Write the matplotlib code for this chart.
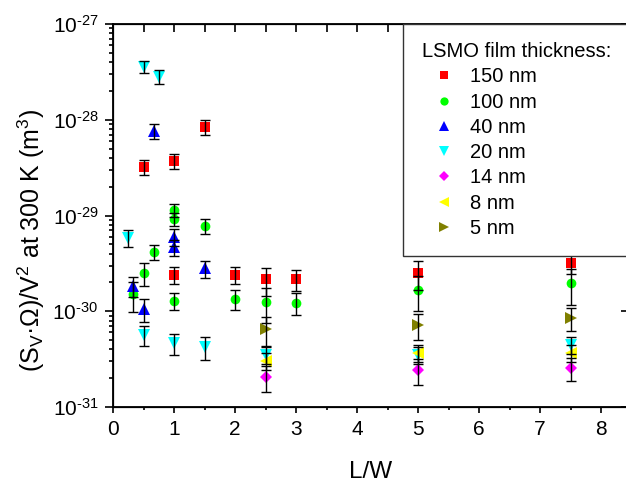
"""
Normalized noise (S_V * Omega / V^2) vs L/W for LSMO films of different thickness
"""
import numpy as np
import matplotlib
matplotlib.use('Agg')
import matplotlib.pyplot as plt
from matplotlib.ticker import FuncFormatter

plt.rcParams['font.family'] = ['Liberation Sans', 'DejaVu Sans']
plt.rcParams['mathtext.fontset'] = 'custom'
plt.rcParams['mathtext.rm'] = 'Liberation Sans'
plt.rcParams['mathtext.it'] = 'Liberation Sans:italic'
plt.rcParams['axes.unicode_minus'] = False

# values (y in m^3, err = relative error)
x150 = [0.5, 1, 1.5, 1, 2, 2.5, 3, 5, 7.5]
y150 = [3.24e-29, 3.71e-29, 8.5e-29, 2.39e-30, 2.39e-30, 2.15e-30, 2.15e-30, 2.49e-30, 3.21e-30]
e150 = [0.18, 0.18, 0.18, 0.2, 0.2, 0.33, 0.25, 0.33, 0.24]

x100 = [0.33, 0.5, 0.67, 1, 1, 1, 1.5, 2, 2.5, 3, 5, 7.5]
y100 = [1.50e-30, 2.49e-30, 4.19e-30, 1.14e-29, 9.2e-30, 1.29e-30, 7.8e-30, 1.34e-30, 1.26e-30, 1.23e-30, 1.67e-30, 1.96e-30]
e100 = [0.35, 0.27, 0.18, 0.15, 0.15, 0.2, 0.18, 0.23, 0.4, 0.25, 0.4, 0.4]

x40 = [0.33, 0.5, 0.67, 1, 1, 1.5]
y40 = [1.85e-30, 1.05e-30, 7.7e-29, 6.0e-30, 4.66e-30, 2.81e-30]
e40 = [0.24, 0.27, 0.18, 0.2, 0.18, 0.2]

x20 = [0.25, 0.5, 0.75, 0.5, 1, 1.5, 2.5, 5, 7.5]
y20 = [5.86e-30, 3.58e-28, 2.82e-28, 5.65e-31, 4.63e-31, 4.27e-31, 3.49e-31, 3.49e-31, 4.45e-31]
e20 = [0.2, 0.15, 0.17, 0.24, 0.24, 0.27, 0.2, 0.2, 0.2]

x14 = [2.5, 5, 7.5]
y14 = [2.07e-31, 2.43e-31, 2.57e-31]
e14 = [0.3, 0.3, 0.27]

x8 = [2.5, 5, 7.5]
y8 = [3.02e-31, 3.70e-31, 3.70e-31]
e8 = [0.2, 0.2, 0.2]

x5 = [2.5, 5, 7.5]
y5 = [6.47e-31, 7.18e-31, 8.43e-31]
e5 = [0.33, 0.3, 0.27]

decades = [1e-31, 1e-30, 1e-29, 1e-28, 1e-27]

series = [
    ('150 nm', x150, y150, e150, 's', '#ff0000', 6.5),
    ('100 nm', x100, y100, e100, 'o', '#00ff00', 7),
    ('40 nm', x40, y40, e40, '^', '#0000ff', 8.3),
    ('20 nm', x20, y20, e20, 'v', '#00ffff', 8.3),
    ('14 nm', x14, y14, e14, 'D', '#ff00ff', 6.5),
    ('8 nm', x8, y8, e8, '<', '#ffff00', 8.3),
    ('5 nm', x5, y5, e5, '>', '#808000', 8.3),
]

fig = plt.figure(figsize=(6.26, 4.83), dpi=100)
W, H = 626, 483
x0, x1, ytop, ybot = 113, 629, 24, 407
ax = fig.add_axes([x0 / W, 1 - ybot / H, (x1 - x0) / W, (ybot - ytop) / H])

handles = []
for label, xs, ys, es, m, c, ms in series:
    ys = np.array(ys)
    err = ys * np.array(es)
    h, = ax.plot(xs, ys, m, color=c, markersize=ms, markeredgewidth=0, label=label, zorder=2, linestyle='none')
    ax.errorbar(xs, ys, yerr=err, fmt='none', ecolor='black', elinewidth=1, capsize=3.3, capthick=1, zorder=3)
    handles.append(h)

ax.set_yscale('log')
ax.set_ylim(1e-31, 1e-27)
ax.set_yticks(decades)
ax.yaxis.set_major_formatter(FuncFormatter(lambda v, p: '10$^{\u2010%d}$' % round(-np.log10(v))))
ax.set_xlim(0, (x1 - x0) / 61.0)
ax.set_xticks(range(9))
ax.set_xticks(np.arange(0.5, 8.5, 1), minor=True)
ax.tick_params(axis='both', which='major', direction='out', width=1.2, labelsize=15)
ax.tick_params(axis='x', which='major', length=4.5, pad=5)
ax.tick_params(axis='x', which='minor', direction='out', length=2.5, width=1.2)
ax.tick_params(axis='y', which='major', length=5.5, pad=5)
ax.tick_params(axis='y', which='minor', direction='out', length=3, width=1.2)
for s in ax.spines.values():
    s.set_linewidth(1.3)
ax.set_xlabel('L/W', fontsize=17.5, labelpad=16)
ax.set_ylabel('(S$_\\mathrm{V}$·Ω)/V$^2$ at 300 K (m$^3$)', fontsize=18)
ax.yaxis.set_label_coords(-0.128, 0.436)

# top and right ticks point inward
axt = ax.twiny()
axt.set_xlim(ax.get_xlim())
axt.set_xticks(np.arange(0, 8.5, 0.5))
axt.tick_params(axis='x', direction='in', length=5.5, width=1.2, labeltop=False)
axr = ax.twinx()
axr.set_yscale('log')
axr.set_ylim(ax.get_ylim())
axr.set_yticks(decades)
axr.tick_params(axis='y', which='major', direction='in', length=5.5, width=1.2, labelright=False)
axr.tick_params(axis='y', which='minor', length=0)

leg = axr.legend(handles=handles, title='LSMO film thickness:', loc='upper right', bbox_to_anchor=(1, 1),
                 borderaxespad=0, fancybox=False, edgecolor='#333333', framealpha=1,
                 fontsize=14.5, title_fontsize=14.5, labelspacing=0.31, handletextpad=0.2,
                 handlelength=2.2, borderpad=0.9, markerscale=0.85, alignment='left')
leg.get_frame().set_linewidth(1.0)

fig.savefig('out.png', dpi=100)
